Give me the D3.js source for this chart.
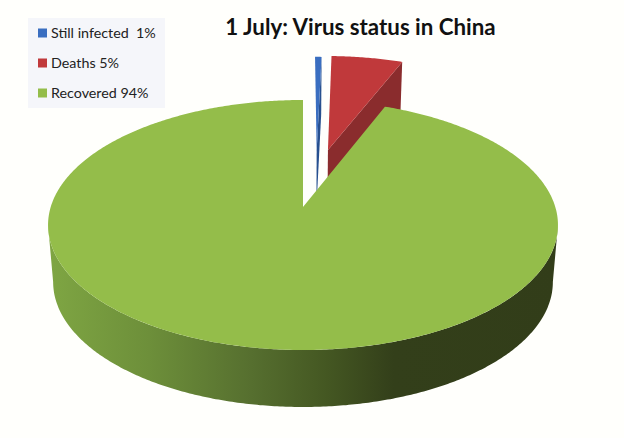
<!DOCTYPE html>
<html><head><meta charset="utf-8">
<script src="https://cdn.jsdelivr.net/npm/d3@7"></script>
<style>html,body{margin:0;padding:0;background:#fffffc}svg{display:block}</style>
</head><body><svg id="c" width="624" height="438"></svg>
<script>
const categories = ["Still infected", "Deaths", "Recovered"];
const values = [0.5, 5.5, 94];
const legendLabels = ["Still infected  1%", "Deaths 5%", "Recovered 94%"];
const titleText = "1 July: Virus status in China";

const topColors = ["#3a6ec0", "#c0393b", "#94bd4a"];
const wallColors = ["#27508f", "#8a2c2d", "#3a4a1c"];
const explode = [[0.058, 0.49], [0.106, 0.5], [0, 0]];

const W = 624, H = 438;
const svg = d3.select("#c");
const k = 0.144, apexX = 303, apexY = 207, B = 252.3, A = 122.4, depth = 57, shrink = 0.98;

// perspective projection of the unit-disc pie plane
function project(u, v, low) {
  const s = 1 + k * v;
  const X = B * u / s * (low ? shrink : 1);
  const Y = -A * v / s + (low ? depth : 0);
  return [apexX + X, apexY + Y];
}
const rim = (a, e, low) => project(Math.sin(a) + e[0], Math.cos(a) + e[1], low);
const samples = (a0, a1) => {
  const n = Math.max(2, Math.ceil((a1 - a0) / 0.01));
  return d3.range(n + 1).map(i => a0 + (a1 - a0) * i / n);
};
const line = d3.line().curve(d3.curveLinear);

const defs = svg.append("defs");
const grad = defs.append("linearGradient").attr("id", "wallGrad")
  .attr("gradientUnits", "userSpaceOnUse").attr("x1", 47).attr("x2", 557).attr("y1", 0).attr("y2", 0);
[[0, "#7fa643"], [0.2, "#6d8f3a"], [0.4, "#566f2f"], [0.55, "#445722"], [0.68, "#333f1a"], [1, "#323d19"]]
  .forEach(d => grad.append("stop").attr("offset", d[0]).attr("stop-color", d[1]));

const arcs = d3.pie().sort(null).value(d => d)(values);

// exploded slices first: radial wall then top face
[0, 1].forEach(i => {
  const a = arcs[i], e = explode[i];
  const apex = project(e[0], e[1]), apexLow = project(e[0], e[1], true);
  const end = rim(a.endAngle, e), endLow = rim(a.endAngle, e, true);
  svg.append("path").attr("d", line([apex, end, endLow, apexLow]) + "Z").attr("fill", wallColors[i]);
  svg.append("path")
    .attr("d", line([apex, ...samples(a.startAngle, a.endAngle).map(t => rim(t, e))]) + "Z")
    .attr("fill", topColors[i]);
});

// recovered slice: front wall, then top face
const g = arcs[2];
const front = samples(Math.PI * 0.546, Math.PI * 1.454);
svg.append("path")
  .attr("d", line([...front.map(t => rim(t, [0, 0])), ...front.slice().reverse().map(t => rim(t, [0, 0], true))]) + "Z")
  .attr("fill", "url(#wallGrad)");
svg.append("path")
  .attr("d", line([project(0, 0), ...samples(g.startAngle, g.endAngle).map(t => rim(t, [0, 0]))]) + "Z")
  .attr("fill", topColors[2]);

// title
svg.append("text").attr("x", 360.5).attr("y", 35).attr("text-anchor", "middle")
  .attr("font-family", "Lato, 'Open Sans', sans-serif").attr("font-weight", 700).attr("font-size", 22.3)
  .attr("fill", "#111").text(titleText);

// legend
const lg = svg.append("g");
lg.append("rect").attr("x", 28).attr("y", 18).attr("width", 137).attr("height", 90).attr("fill", "#f5f6fa");
const rowY = d3.scalePoint().domain(categories).range([33, 93]);
categories.forEach((c, i) => {
  lg.append("rect").attr("x", 38).attr("y", rowY(c) - 4.5).attr("width", 9).attr("height", 9).attr("fill", topColors[i]);
  lg.append("text").attr("x", 51).attr("y", rowY(c) + 5)
    .attr("font-family", "Lato, 'Open Sans', sans-serif").attr("font-size", 14.3).attr("fill", "#222")
    .style("white-space", "pre").text(legendLabels[i]);
});
</script></body></html>
